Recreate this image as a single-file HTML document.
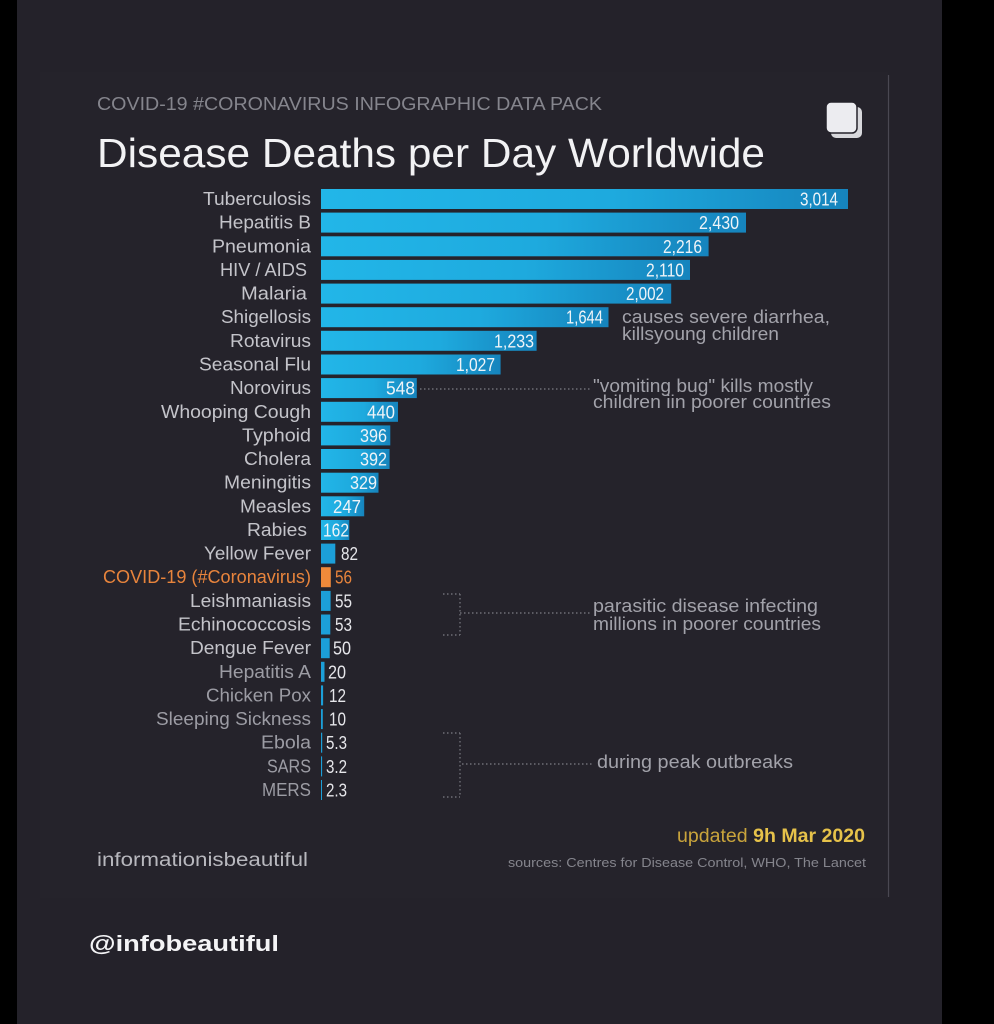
<!DOCTYPE html>
<html>
<head>
<meta charset="utf-8">
<style>
  html,body{margin:0;padding:0;background:#000;}
  body{width:994px;height:1024px;overflow:hidden;}
  svg{display:block;}
  text{font-family:"Liberation Sans",sans-serif;}
</style>
</head>
<body>
<svg width="994" height="1024" viewBox="0 0 994 1024" xmlns="http://www.w3.org/2000/svg">
  <defs>
    <linearGradient id="bar" x1="0" y1="0" x2="1" y2="0">
      <stop offset="0" stop-color="#22b6e8"/>
      <stop offset="0.55" stop-color="#1eaade"/>
      <stop offset="1" stop-color="#1684bd"/>
    </linearGradient>
  </defs>
  <rect x="0" y="0" width="994" height="1024" fill="#000"/>
  <rect x="17" y="0" width="925" height="1024" fill="#24222a"/>
  <rect x="40" y="72" width="848" height="826" fill="#25232b"/>
  <line x1="888.5" y1="75" x2="888.5" y2="897" stroke="#4a4852" stroke-width="1.2"/>

  <!-- header -->
  <text x="97" y="110" font-size="18" fill="#85858d" textLength="505" lengthAdjust="spacingAndGlyphs">COVID-19 #CORONAVIRUS INFOGRAPHIC DATA PACK</text>
  <text x="97" y="167" font-size="41" fill="#f2f2f4" textLength="668" lengthAdjust="spacingAndGlyphs">Disease Deaths per Day Worldwide</text>

  <!-- icon -->
  <rect x="831" y="107" width="31" height="31" rx="5" fill="#d8d8dc"/>
  <rect x="826" y="102" width="31" height="31" rx="5" fill="#ececf0" stroke="#25232b" stroke-width="1.5"/>

  <!-- bars -->
  <g id="bars">
    <rect x="321" y="189" width="527" height="20" fill="url(#bar)"/>
    <rect x="321" y="212.6" width="425" height="20" fill="url(#bar)"/>
    <rect x="321" y="236.3" width="387.6" height="20" fill="url(#bar)"/>
    <rect x="321" y="259.9" width="369" height="20" fill="url(#bar)"/>
    <rect x="321" y="283.6" width="350.2" height="20" fill="url(#bar)"/>
    <rect x="321" y="307.2" width="287.5" height="20" fill="url(#bar)"/>
    <rect x="321" y="330.8" width="215.6" height="20" fill="url(#bar)"/>
    <rect x="321" y="354.5" width="179.6" height="20" fill="url(#bar)"/>
    <rect x="321" y="378.1" width="95.8" height="20" fill="url(#bar)"/>
    <rect x="321" y="401.8" width="77" height="20" fill="url(#bar)"/>
    <rect x="321" y="425.4" width="69.3" height="20" fill="url(#bar)"/>
    <rect x="321" y="449" width="68.6" height="20" fill="url(#bar)"/>
    <rect x="321" y="472.7" width="57.5" height="20" fill="url(#bar)"/>
    <rect x="321" y="496.3" width="43.2" height="20" fill="url(#bar)"/>
    <rect x="321" y="520" width="28.3" height="20" fill="url(#bar)"/>
    <rect x="321" y="543.6" width="14.3" height="20" fill="#1c9fd8"/>
    <rect x="321" y="567.2" width="9.8" height="20" fill="#f08a3a"/>
    <rect x="321" y="590.9" width="9.6" height="20" fill="#1c9fd8"/>
    <rect x="321" y="614.5" width="9.3" height="20" fill="#1c9fd8"/>
    <rect x="321" y="638.2" width="8.7" height="20" fill="#1c9fd8"/>
    <rect x="321" y="661.8" width="3.5" height="20" fill="#1c9fd8"/>
    <rect x="321" y="685.4" width="2.1" height="20" fill="#1c9fd8"/>
    <rect x="321" y="709.1" width="1.8" height="20" fill="#1c9fd8"/>
    <rect x="321" y="732.7" width="1.2" height="20" fill="#1c9fd8"/>
    <rect x="321" y="756.4" width="1.1" height="20" fill="#1c9fd8"/>
    <rect x="321" y="780" width="1" height="20" fill="#1c9fd8"/>
  </g>

  <!-- labels -->
  <g font-size="18" fill="#c4c4ca">
    <text x="203" y="205" textLength="108" lengthAdjust="spacingAndGlyphs">Tuberculosis</text>
    <text x="219" y="228.6" textLength="92" lengthAdjust="spacingAndGlyphs">Hepatitis B</text>
    <text x="212" y="252.3" textLength="99" lengthAdjust="spacingAndGlyphs">Pneumonia</text>
    <text x="220" y="275.9" textLength="87" lengthAdjust="spacingAndGlyphs">HIV / AIDS</text>
    <text x="241" y="299.6" textLength="66" lengthAdjust="spacingAndGlyphs">Malaria</text>
    <text x="221" y="323.2" textLength="90" lengthAdjust="spacingAndGlyphs">Shigellosis</text>
    <text x="230" y="346.8" textLength="81" lengthAdjust="spacingAndGlyphs">Rotavirus</text>
    <text x="199" y="370.5" textLength="112" lengthAdjust="spacingAndGlyphs">Seasonal Flu</text>
    <text x="230" y="394.1" textLength="81" lengthAdjust="spacingAndGlyphs">Norovirus</text>
    <text x="161" y="417.8" textLength="150" lengthAdjust="spacingAndGlyphs">Whooping Cough</text>
    <text x="242" y="441.4" textLength="69" lengthAdjust="spacingAndGlyphs">Typhoid</text>
    <text x="244" y="465" textLength="67" lengthAdjust="spacingAndGlyphs">Cholera</text>
    <text x="224" y="488.7" textLength="87" lengthAdjust="spacingAndGlyphs">Meningitis</text>
    <text x="240" y="512.3" textLength="71" lengthAdjust="spacingAndGlyphs">Measles</text>
    <text x="247" y="536" textLength="60" lengthAdjust="spacingAndGlyphs">Rabies</text>
    <text x="204" y="559.6" textLength="107" lengthAdjust="spacingAndGlyphs">Yellow Fever</text>
    <text x="103" y="583.2" textLength="208" lengthAdjust="spacingAndGlyphs" fill="#e8843c">COVID-19 (#Coronavirus)</text>
    <text x="190" y="606.9" textLength="121" lengthAdjust="spacingAndGlyphs">Leishmaniasis</text>
    <text x="178" y="630.5" textLength="133" lengthAdjust="spacingAndGlyphs">Echinococcosis</text>
    <text x="190" y="654.2" textLength="121" lengthAdjust="spacingAndGlyphs">Dengue Fever</text>
  </g>
  <g font-size="18" fill="#9c9ca4">
    <text x="219" y="677.8" textLength="92" lengthAdjust="spacingAndGlyphs">Hepatitis A</text>
    <text x="206" y="701.4" textLength="105" lengthAdjust="spacingAndGlyphs">Chicken Pox</text>
    <text x="156" y="725.1" textLength="155" lengthAdjust="spacingAndGlyphs">Sleeping Sickness</text>
    <text x="261" y="748.7" textLength="50" lengthAdjust="spacingAndGlyphs">Ebola</text>
    <text x="267" y="772.4" textLength="44" lengthAdjust="spacingAndGlyphs">SARS</text>
    <text x="262" y="796" textLength="49" lengthAdjust="spacingAndGlyphs">MERS</text>
  </g>

  <!-- values inside -->
  <g font-size="18" fill="#eef4f8">
    <text x="800" y="205.5" textLength="38" lengthAdjust="spacingAndGlyphs">3,014</text>
    <text x="699" y="229.1" textLength="40" lengthAdjust="spacingAndGlyphs">2,430</text>
    <text x="663" y="252.8" textLength="39" lengthAdjust="spacingAndGlyphs">2,216</text>
    <text x="646" y="276.4" textLength="38" lengthAdjust="spacingAndGlyphs">2,110</text>
    <text x="626" y="300.1" textLength="38" lengthAdjust="spacingAndGlyphs">2,002</text>
    <text x="566" y="323.7" textLength="37" lengthAdjust="spacingAndGlyphs">1,644</text>
    <text x="494" y="347.3" textLength="40" lengthAdjust="spacingAndGlyphs">1,233</text>
    <text x="456" y="371" textLength="39" lengthAdjust="spacingAndGlyphs">1,027</text>
    <text x="386" y="394.6" textLength="29" lengthAdjust="spacingAndGlyphs">548</text>
    <text x="367" y="418.3" textLength="28" lengthAdjust="spacingAndGlyphs">440</text>
    <text x="360" y="441.9" textLength="27" lengthAdjust="spacingAndGlyphs">396</text>
    <text x="360" y="465.5" textLength="27" lengthAdjust="spacingAndGlyphs">392</text>
    <text x="350" y="489.2" textLength="27" lengthAdjust="spacingAndGlyphs">329</text>
    <text x="333" y="512.8" textLength="28" lengthAdjust="spacingAndGlyphs">247</text>
    <text x="323" y="536.5" textLength="26" lengthAdjust="spacingAndGlyphs">162</text>
  </g>
  <!-- values outside -->
  <g font-size="18" fill="#e6e6ea">
    <text x="341" y="560.1" textLength="17" lengthAdjust="spacingAndGlyphs">82</text>
    <text x="335" y="583.7" textLength="17" lengthAdjust="spacingAndGlyphs" fill="#e8843c">56</text>
    <text x="335" y="607.4" textLength="17" lengthAdjust="spacingAndGlyphs">55</text>
    <text x="335" y="631" textLength="17" lengthAdjust="spacingAndGlyphs">53</text>
    <text x="333" y="654.7" textLength="18" lengthAdjust="spacingAndGlyphs">50</text>
    <text x="328" y="678.3" textLength="18" lengthAdjust="spacingAndGlyphs">20</text>
    <text x="329" y="701.9" textLength="17" lengthAdjust="spacingAndGlyphs">12</text>
    <text x="329" y="725.6" textLength="17" lengthAdjust="spacingAndGlyphs">10</text>
    <text x="326" y="749.2" textLength="21" lengthAdjust="spacingAndGlyphs">5.3</text>
    <text x="326" y="772.9" textLength="21" lengthAdjust="spacingAndGlyphs">3.2</text>
    <text x="326" y="796.5" textLength="21" lengthAdjust="spacingAndGlyphs">2.3</text>
  </g>

  <!-- annotations -->
  <g font-size="18" fill="#a2a2aa">
    <text x="622" y="323" textLength="208" lengthAdjust="spacingAndGlyphs">causes severe diarrhea,</text>
    <text x="622" y="340" textLength="157" lengthAdjust="spacingAndGlyphs">killsyoung children</text>
    <text x="593" y="392" textLength="220" lengthAdjust="spacingAndGlyphs">"vomiting bug" kills mostly</text>
    <text x="593" y="408" textLength="238" lengthAdjust="spacingAndGlyphs">children iin poorer countries</text>
    <text x="593" y="612" textLength="225" lengthAdjust="spacingAndGlyphs">parasitic disease infecting</text>
    <text x="593" y="630" textLength="228" lengthAdjust="spacingAndGlyphs">millions in poorer countries</text>
    <text x="597" y="768" textLength="196" lengthAdjust="spacingAndGlyphs">during peak outbreaks</text>
  </g>
  <g stroke="#6e6e76" stroke-width="1.4" stroke-dasharray="1.5 2.5" fill="none">
    <line x1="420" y1="389" x2="592" y2="389"/>
    <line x1="443" y1="594" x2="460" y2="594"/>
    <line x1="460" y1="594" x2="460" y2="635"/>
    <line x1="443" y1="635" x2="460" y2="635"/>
    <line x1="460" y1="613" x2="590" y2="613"/>
    <line x1="443" y1="733" x2="460" y2="733"/>
    <line x1="460" y1="733" x2="460" y2="797"/>
    <line x1="443" y1="797" x2="460" y2="797"/>
    <line x1="462" y1="764" x2="592" y2="764"/>
  </g>

  <!-- footer -->
  <text x="97" y="866" font-size="19" fill="#b8b8be" textLength="211" lengthAdjust="spacingAndGlyphs">informationisbeautiful</text>
  <text x="677" y="842" font-size="19" fill="#c9a43c" textLength="188" lengthAdjust="spacingAndGlyphs">updated <tspan font-weight="bold" fill="#e6c24a">9h Mar 2020</tspan></text>
  <text x="508" y="867" font-size="13" fill="#85858d" textLength="358" lengthAdjust="spacingAndGlyphs">sources: Centres for Disease Control, WHO, The Lancet</text>

  <text x="89" y="951" font-size="22" font-weight="bold" fill="#f4f4f6" textLength="190" lengthAdjust="spacingAndGlyphs">@infobeautiful</text>
</svg>
</body>
</html>
